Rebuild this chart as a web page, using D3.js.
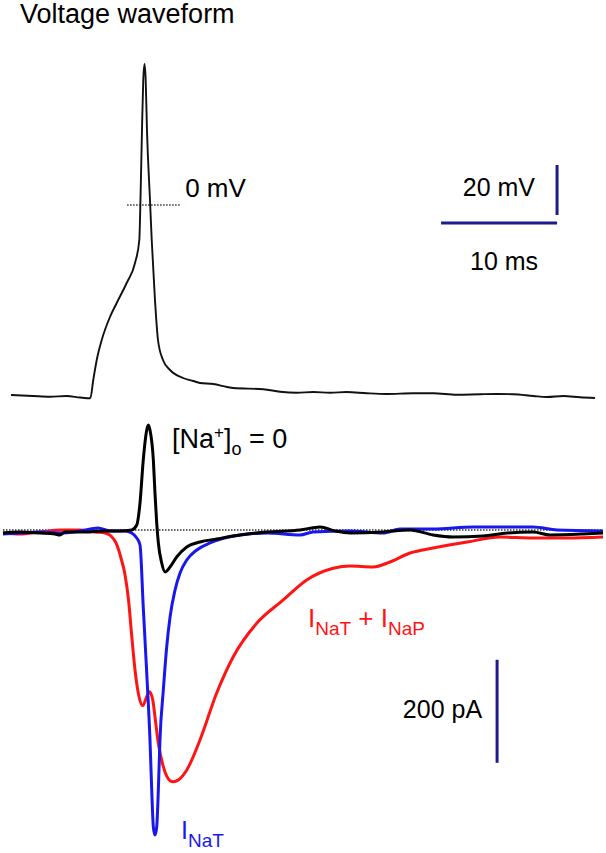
<!DOCTYPE html>
<html>
<head>
<meta charset="utf-8">
<script src="https://cdn.jsdelivr.net/npm/d3@7"></script>
<style>
  body { margin: 0; background: #fff; }
  svg { display: block; font-family: "Liberation Sans", Arial, sans-serif; }
</style>
</head>
<body>
<svg id="chart" width="606" height="853"></svg>
<script>
// time in ms, voltage in mV, current in pA
const voltageTrace = [
  [0.69, -76], [2.59, -76.4], [4.05, -76.7], [5.49, -76.4], [6.64, -77], [7.53, -77.3],
  [7.78, -70], [8.08, -62], [8.51, -54], [9.22, -44.8], [9.80, -39.2], [10.66, -31.2],
  [11.38, -23.2], [11.75, -14], [11.85, 2], [11.98, 30], [12.09, 50], [12.2, 56.4],
  [12.30, 50], [12.41, 30], [12.67, 2], [12.82, -14], [13.10, -38], [13.36, -54],
  [13.79, -62], [14.40, -66], [15.52, -69.2], [16.41, -70.4], [16.98, -71.2], [18.13, -71.6],
  [19.31, -72.8], [19.85, -73.2], [22.44, -73.7], [23.88, -74.7], [25.32, -75.1], [26.75, -74.8],
  [28.19, -75.1], [29.63, -74.8], [31.35, -75.3], [33.08, -75.6], [35.37, -75.3], [37.09, -75.3],
  [39.11, -75.9], [41.12, -75.7], [42.56, -75.6], [43.99, -75.7], [45.72, -76.4], [46.87, -76.8],
  [48.3, -76.4], [49.74, -76.9], [51.03, -77.2]
];

const naFreeTrace = [
  [0, -5.8], [1.47, -3.9], [3.19, -5.8], [4.48, -7.8], [4.91, -9.7], [5.34, -3.9],
  [7.07, -3.9], [8.79, -1.9], [10.09, -1.9], [11.09, 0], [11.53, 9.7], [11.81, 52.4],
  [12.09, 135.9], [12.39, 194.2], [12.53, 203.9], [12.67, 194.2], [12.96, 135.9], [13.10, 71.8],
  [13.25, 13.6], [13.39, -25.2], [13.68, -64.1], [13.97, -81.6], [14.40, -71.8], [14.97, -52.4],
  [15.84, -33], [16.98, -23.3], [18.42, -17.5], [19.83, -11.7], [22.76, -3.9], [25.6, 0],
  [27.33, 5.8], [28.62, -1.9], [29.91, -5.8], [32.76, -3.9], [35.09, 0], [37.07, -9.7],
  [38.79, -13.6], [41.38, -11.7], [43.45, -5.8], [45.69, -3.9], [47.16, -9.7], [50.0, -7.8],
  [51.72, -5.8]
];

const iNaTTrace = [
  [0, -7.8], [1.47, -5.8], [3.19, -3.9], [4.91, -5.8], [6.64, -1.9], [8.19, 3.9],
  [9.22, -1.9], [10.52, -1.9], [11.09, -5.8], [11.53, -15.5], [11.81, -29.1], [12.09, -149.5],
  [12.39, -277.7], [12.67, -407.8], [12.82, -504.9], [12.96, -576.7], [13.1, -592.2], [13.25, -576.7],
  [13.39, -504.9], [13.53, -407.8], [13.82, -310.7], [14.11, -227.2], [14.40, -168.9], [14.83, -116.5],
  [15.26, -83.5], [15.84, -58.3], [16.70, -38.8], [17.84, -25.2], [20.43, -9.7], [22.76, -5.8],
  [25.6, -9.7], [26.72, -3.9], [29.91, -1.9], [32.76, -5.8], [34.22, 1.9], [37.07, 1.9],
  [40.52, 5.8], [43.71, 5.8], [45.69, 5.8], [47.76, 0], [51.72, -1.9]
];

const iNaTPTrace = [
  [0, -5.8], [1.47, -7.8], [3.19, -3.9], [4.91, 0], [6.64, 0], [7.93, -3.9],
  [8.79, -5.8], [9.31, -11.7], [9.74, -25.2], [10.17, -54.4], [10.52, -87.4], [10.82, -135.9],
  [11.09, -203.9], [11.38, -271.8], [11.75, -326.2], [12.04, -341.2], [12.39, -323.7], [12.61, -314],
  [12.91, -330.1], [13.10, -362.5], [13.39, -414.2], [13.82, -459.6], [14.40, -486.8], [14.68, -488.7],
  [15.11, -485.4], [15.84, -466], [16.98, -407.8], [18.42, -316.5], [19.85, -246], [21.87, -181.2],
  [24.16, -135.9], [26.18, -97.1], [28.47, -74.4], [29.91, -69.9], [31.9, -71.8], [33.36, -62.1],
  [35.09, -44.7], [37.07, -35], [40.0, -23.3], [42.84, -13.6], [45.69, -15.5], [48.62, -15.5],
  [51.72, -13.6]
];

// scale bars: [start, length]
const timeBar = [37.76, 10];    // ms
const voltBar = [-4, 20];       // mV
const currentBar = [-452, 200]; // pA

const svg = d3.select('#chart');

const x = d3.scaleLinear().domain([0, 51.72]).range([3, 603]);
const yV = d3.scaleLinear().domain([-80, 60]).range([405, 55]);
const yI = d3.scaleLinear().domain([-600, 200]).range([839, 427]);

const barColor = '#1c1c8a';

// Title
svg.append('text')
  .attr('x', 20).attr('y', 23)
  .style('font-size', '27px')
  .text('Voltage waveform');

// ---- voltage panel ----
svg.append('line')
  .attr('x1', x(10.7)).attr('x2', x(15.3))
  .attr('y1', yV(0)).attr('y2', yV(0))
  .style('stroke', '#333').style('stroke-width', 1.5)
  .style('stroke-dasharray', '1.5,1.5');

svg.append('text')
  .attr('x', x(15.7)).attr('y', yV(0) - 8)
  .style('font-size', '26px')
  .text('0 mV');

const lineV = d3.line().x(d => x(d[0])).y(d => yV(d[1])).curve(d3.curveMonotoneX);
svg.append('path')
  .datum(voltageTrace)
  .attr('d', lineV)
  .style('fill', 'none').style('stroke', '#111').style('stroke-width', 1.9);

// voltage scale bars
svg.append('line')
  .attr('x1', x(timeBar[0])).attr('x2', x(timeBar[0] + timeBar[1]))
  .attr('y1', yV(-7.2)).attr('y2', yV(-7.2))
  .style('stroke', barColor).style('stroke-width', 3);
svg.append('line')
  .attr('x1', x(timeBar[0] + timeBar[1])).attr('x2', x(timeBar[0] + timeBar[1]))
  .attr('y1', yV(voltBar[0])).attr('y2', yV(voltBar[0] + voltBar[1]))
  .style('stroke', barColor).style('stroke-width', 3);
svg.append('text')
  .attr('x', x(timeBar[0] + timeBar[1]) - 22).attr('y', 196)
  .attr('text-anchor', 'end')
  .style('font-size', '25px')
  .text('20 mV');
svg.append('text')
  .attr('x', x(timeBar[0] + 5) + 5).attr('y', 270)
  .attr('text-anchor', 'middle')
  .style('font-size', '25px')
  .text('10 ms');

// ---- current panel ----
svg.append('line')
  .attr('x1', x(0)).attr('x2', x(51.72))
  .attr('y1', yI(0)).attr('y2', yI(0))
  .style('stroke', '#333').style('stroke-width', 1.5)
  .style('stroke-dasharray', '1.5,1.5');

const lineI = d3.line().x(d => x(d[0])).y(d => yI(d[1])).curve(d3.curveMonotoneX);
const currents = [
  { data: iNaTPTrace, color: '#ff1414' },
  { data: iNaTTrace, color: '#1818ee' },
  { data: naFreeTrace, color: '#000' }
];
svg.selectAll('path.current')
  .data(currents)
  .enter()
  .append('path')
  .attr('class', 'current')
  .attr('d', d => lineI(d.data))
  .style('fill', 'none')
  .style('stroke', d => d.color)
  .style('stroke-width', 3)
  .style('stroke-linejoin', 'round');

// labels
const naLabel = svg.append('text')
  .attr('x', 172).attr('y', 448)
  .style('font-size', '27px');
naLabel.append('tspan').text('[Na');
naLabel.append('tspan').attr('dy', -10).style('font-size', '17px').text('+');
naLabel.append('tspan').attr('dy', 10).text(']');
naLabel.append('tspan').attr('dy', 7).style('font-size', '18px').text('o');
naLabel.append('tspan').attr('dy', -7).text(' = 0');

const redLabel = svg.append('text')
  .attr('x', 308).attr('y', 627)
  .style('font-size', '26px').style('fill', '#ff1414');
redLabel.append('tspan').text('I');
redLabel.append('tspan').attr('dy', 8).style('font-size', '19px').text('NaT');
redLabel.append('tspan').attr('dy', -8).text(' + I');
redLabel.append('tspan').attr('dy', 8).style('font-size', '19px').text('NaP');

const blueLabel = svg.append('text')
  .attr('x', 181).attr('y', 839)
  .style('font-size', '25px').style('fill', '#1818ee');
blueLabel.append('tspan').text('I');
blueLabel.append('tspan').attr('dy', 8).style('font-size', '19px').text('NaT');

// current scale bar
svg.append('line')
  .attr('x1', x(42.59)).attr('x2', x(42.59))
  .attr('y1', yI(currentBar[0])).attr('y2', yI(currentBar[0] + currentBar[1]))
  .style('stroke', barColor).style('stroke-width', 3);
svg.append('text')
  .attr('x', x(42.59) - 15).attr('y', 718)
  .attr('text-anchor', 'end')
  .style('font-size', '25px')
  .text('200 pA');
</script>
</body>
</html>
